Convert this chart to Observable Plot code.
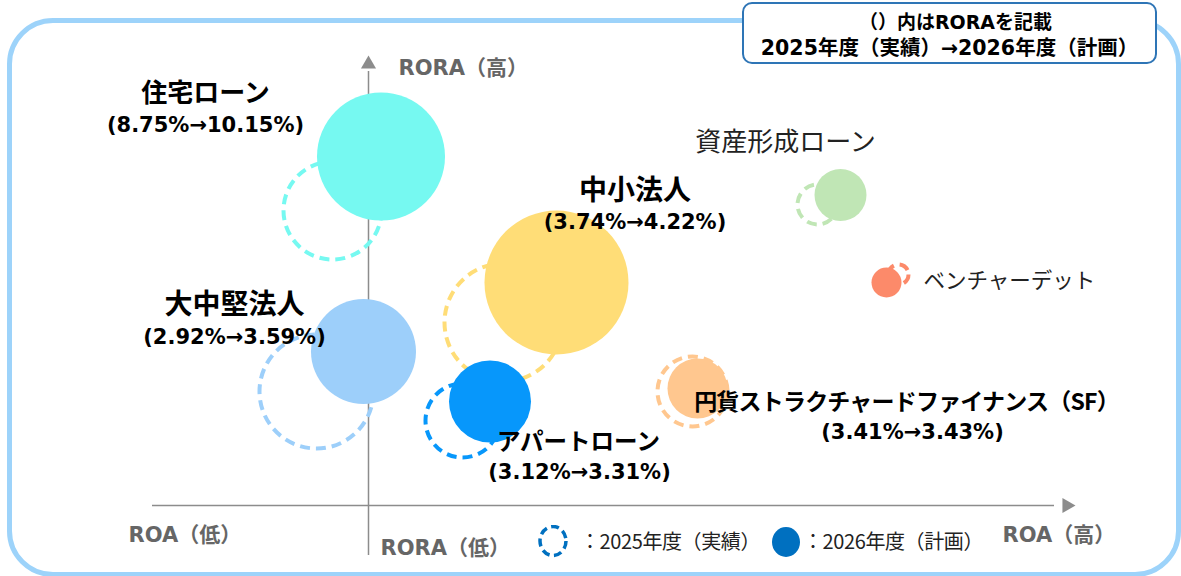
<!DOCTYPE html>
<html>
<head>
<meta charset="utf-8">
<script src="https://cdn.jsdelivr.net/npm/d3@7"></script>
<script src="https://cdn.jsdelivr.net/npm/@observablehq/plot@0.6"></script>
<style>
  html, body { margin: 0; padding: 0; background: #fff; overflow: hidden; }
  #wrap { position: relative; width: 1181px; height: 576px; overflow: hidden; font-family: "Noto Sans CJK JP", sans-serif; }
  #frame { position: absolute; left: 7px; top: 18px; width: 1174px; height: 559px; box-sizing: border-box;
           border: 5px solid #9DD3FA; border-radius: 46px; }
  #chart { position: absolute; left: 0; top: 0; }
  #note { position: absolute; left: 742px; top: 2px; width: 415px; height: 62px; box-sizing: border-box;
          border: 2px solid #2E75B6; border-radius: 10px; background: #fff; text-align: center;
          font-family: "DejaVu Sans", "Noto Sans CJK JP", sans-serif; font-weight: bold; color: #000; }
  #note .l1 { position: absolute; left: 0; right: 0; top: 6px; font-size: 19px; line-height: 24px; padding-left: 12px; }
  #note .l2 { position: absolute; left: 0; right: 0; top: 31px; font-size: 20.5px; line-height: 26px; }
  .leg { position: absolute; font-family: "Noto Sans CJK JP", sans-serif; font-size: 20px; color: #222; line-height: 24px; white-space: nowrap; letter-spacing: -0.4px; }
  .legicon { position: absolute; }
</style>
</head>
<body>
<div id="wrap">
  <div id="frame"></div>
  <div id="chart"></div>
  <div id="note"><div class="l1">（）内はRORAを記載</div><div class="l2">2025年度（実績）→2026年度（計画）</div></div>
  <svg class="legicon" style="left:537px; top:525px" width="34" height="34"><ellipse cx="16" cy="16" rx="13" ry="14.5" fill="none" stroke="#0070C0" stroke-width="3.5" stroke-dasharray="8,4.5"></ellipse></svg>
  <div class="leg" style="left:580px; top:529px">：2025年度（実績）</div>
  <svg class="legicon" style="left:770px; top:526px" width="32" height="32"><ellipse cx="16" cy="16" rx="14" ry="15" fill="#0070C0"></ellipse></svg>
  <div class="leg" style="left:803px; top:529px">：2026年度（計画）</div>
</div>
<script>
// ---- Data (positions are conceptual ROA / RORA placement units; origin = axis crossing) ----
const segments = ["住宅ローン", "中小法人", "大中堅法人", "アパートローン", "円貨ストラクチャードファイナンス（SF）", "資産形成ローン", "ベンチャーデット"];
const colors   = ["#76F9F1", "#FFDD77", "#9DCFFA", "#0797FB", "#FFC78F", "#C0E6B5", "#FC8A6A"];

// 2025年度（実績） – dashed circles
const roa2025   = [-3.6, 13.5, -5.2, 9.4, 32.4, 44.9, 53.0];
const rora2025  = [29.5, 18.3, 11.4, 8.5, 11.4, 30.1, 23.1];
const size2025  = [4.9, 5.9, 5.7, 3.7, 3.5, 2.0, 1.0];

// 2026年度（計画） – filled circles
const roa2026   = [1.25, 18.8, -0.5, 12.15, 32.9, 47.2, 51.8];
const rora2026  = [34.9, 22.3, 15.4, 10.4, 11.7, 31.05, 22.3];
const size2026  = [6.4, 7.2, 5.25, 4.1, 3.0, 2.6, 1.5];

// RORA (%) shown in brackets
const roraPct2025 = [8.75, 3.74, 2.92, 3.12, 3.41, null, null];
const roraPct2026 = [10.15, 4.22, 3.59, 3.31, 3.43, null, null];

// Axis end labels
const axisLabels = ["RORA（高）", "ROA（低）", "RORA（低）", "ROA（高）"];

// ---- Layout (label placement, sizes, styles) ----
const labelLayout = [
  {nx: -16.3, ny: 41.2, vx: -16.3, vy: 38.0, fs: 26,   bold: true},
  {nx: 26.65, ny: 31.4, vx: 26.65, vy: 28.3, fs: 28,   bold: true},
  {nx: -13.4, ny: 20.0, vx: -13.4, vy: 16.8, fs: 28,   bold: true},
  {nx: 21.0,  ny: 6.3,  vx: 21.1,  vy: 3.3,  fs: 23.5, bold: true},
  {nx: 53.8,  ny: 10.3, vx: 54.4,  vy: 7.3,  fs: 23,   bold: true},
  {nx: 41.7,  ny: 36.3, fs: 26,   bold: false, anchor: "middle"},
  {nx: 55.5,  ny: 22.4, fs: 21.5, bold: false, anchor: "start"}
];
const axisLabelPos = [
  {x: 3.0, y: 43.7}, {x: -24.0, y: -3.0}, {x: 1.2, y: -4.3}, {x: 63.4, y: -3.0}
];

const prev = segments.map((s, i) => ({seg: s, roa: roa2025[i], rora: rora2025[i], size: size2025[i], color: colors[i]}));
const plan = segments.map((s, i) => ({seg: s, roa: roa2026[i], rora: rora2026[i], size: size2026[i], color: colors[i]}));
const names = segments.map((s, i) => ({text: s, x: labelLayout[i].nx, y: labelLayout[i].ny, fs: labelLayout[i].fs, bold: labelLayout[i].bold, anchor: labelLayout[i].anchor}));
const values = segments.map((s, i) => roraPct2025[i] == null ? null :
  ({text: `(${roraPct2025[i].toFixed(2)}%→${roraPct2026[i].toFixed(2)}%)`, x: labelLayout[i].vx, y: labelLayout[i].vy})).filter(d => d);
const axes = axisLabels.map((t, i) => ({text: t, ...axisLabelPos[i]}));

const axisColor = "#8C8C8C";
const chart = Plot.plot({
  width: 1181, height: 576, margin: 0,
  style: {background: "transparent", overflow: "visible"},
  x: {domain: [-36.8, 81.3], range: [0, 1181], axis: null},
  y: {domain: [-7.1, 50.5], range: [576, 0], axis: null},
  r: {type: "linear", domain: [0, 10], range: [0, 100]},
  color: {type: "identity"},
  marks: [
    // axes
    Plot.ruleX([0], {y1: -5.0, y2: 43.4, stroke: axisColor, strokeWidth: 1.5}),
    Plot.ruleY([0], {x1: -21.6, x2: 68.6, stroke: axisColor, strokeWidth: 1.6}),
    Plot.dot([{x: 0, y: 44.13}], {x: "x", y: "y", symbol: "triangle", r: 5.6, fill: axisColor, stroke: null}),
    Plot.dot([{x: 69.83, y: 0}], {x: "x", y: "y", symbol: "triangle", r: 5.6, rotate: 90, fill: axisColor, stroke: null}),
    Plot.text(axes, {x: "x", y: "y", text: "text", textAnchor: "start", fontSize: 21, fontWeight: "bold", fill: "#666",
      fontFamily: "'DejaVu Sans', 'Noto Sans CJK JP', sans-serif"}),
    // 2025 dashed
    Plot.dot(prev, {x: "roa", y: "rora", r: "size", stroke: "color", fill: "none", strokeWidth: 4, strokeDasharray: "10,6"}),
    // 2026 filled
    Plot.dot(plan, {x: "roa", y: "rora", r: "size", fill: "color", stroke: null}),
    // labels
    Plot.text(names.filter(d => d.bold), {x: "x", y: "y", text: "text", fontSize: "fs", fontWeight: "bold", fill: "#000",
      fontFamily: "'Noto Sans CJK JP', sans-serif"}),
    Plot.text(names.filter(d => !d.bold && d.anchor === "middle"), {x: "x", y: "y", text: "text", fontSize: "fs", fill: "#222",
      fontFamily: "'Noto Sans CJK JP', sans-serif"}),
    Plot.text(names.filter(d => !d.bold && d.anchor === "start"), {x: "x", y: "y", text: "text", fontSize: "fs", textAnchor: "start", fill: "#222",
      fontFamily: "'Noto Sans CJK JP', sans-serif"}),
    Plot.text(values, {x: "x", y: "y", text: "text", fontSize: 21, fontWeight: "bold", fill: "#000",
      fontFamily: "'DejaVu Sans', sans-serif"})
  ]
});
document.getElementById("chart").appendChild(chart);
// condense the long SF label
chart.querySelectorAll("text").forEach(t => {
  if (t.textContent.startsWith("円貨")) t.setAttribute("letter-spacing", "-0.8");
});
</script>
</body>
</html>
